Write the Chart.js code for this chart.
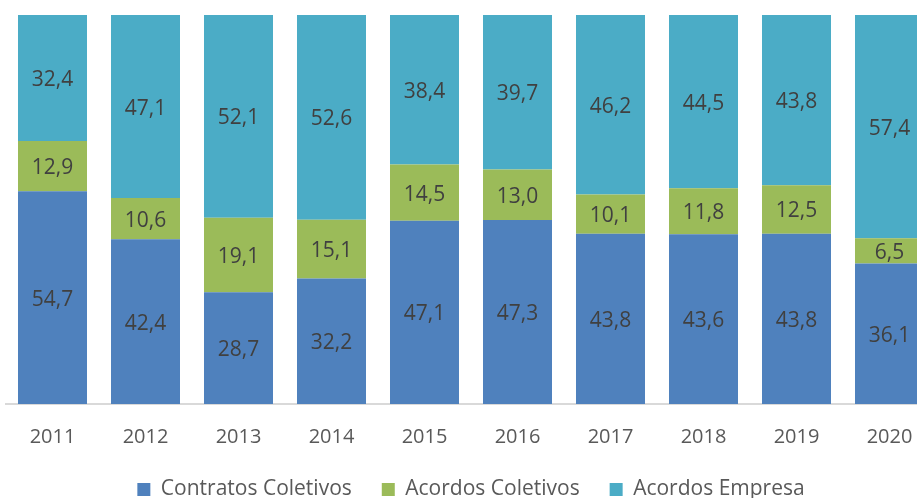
<!DOCTYPE html>
<html>
<head>
<meta charset="utf-8">
<script src="https://cdn.jsdelivr.net/npm/chart.js@4"></script>
<style>
  html, body { margin: 0; padding: 0; background: #fff; overflow: hidden; }
  #wrap { position: absolute; left: 0; top: 0; width: 950px; height: 510px; }
</style>
</head>
<body>
<div id="wrap"><canvas id="chart" width="950" height="510"></canvas></div>
<script>
// data
const years = ['2011', '2012', '2013', '2014', '2015', '2016', '2017', '2018', '2019', '2020'];
const contratosColetivos = [54.7, 42.4, 28.7, 32.2, 47.1, 47.3, 43.8, 43.6, 43.8, 36.1];
const acordosColetivos = [12.9, 10.6, 19.1, 15.1, 14.5, 13.0, 10.1, 11.8, 12.5, 6.5];
const acordosEmpresa = [32.4, 47.1, 52.1, 52.6, 38.4, 39.7, 46.2, 44.5, 43.8, 57.4];

const seriesNames = ['Contratos Coletivos', 'Acordos Coletivos', 'Acordos Empresa'];
const seriesColors = ['#4F81BD', '#9BBB59', '#4BACC6'];
const seriesValues = [contratosColetivos, acordosColetivos, acordosEmpresa];

// 100% stacked: scale each year so the three parts fill the bar
const totals = years.map((y, i) => seriesValues.reduce((s, arr) => s + arr[i], 0));

const FONT = 'Open Sans';

// draws the value in the middle of each segment
const segmentLabels = {
    id: 'segmentLabels',
    afterDatasetsDraw(chart) {
        const ctx = chart.ctx;
        ctx.save();
        ctx.font = '21px "' + FONT + '"';
        ctx.fillStyle = '#404040';
        ctx.textAlign = 'center';
        ctx.textBaseline = 'middle';
        chart.data.datasets.forEach((ds, di) => {
            const meta = chart.getDatasetMeta(di);
            meta.data.forEach((bar, i) => {
                const raw = ds.rawValues[i];
                const txt = raw.toFixed(1).replace('.', ',');
                ctx.fillText(txt, bar.x, (bar.y + bar.base) / 2 + 2);
            });
        });
        ctx.restore();
    }
};

new Chart(document.getElementById('chart'), {
    type: 'bar',
    data: {
        labels: years,
        datasets: seriesNames.map((name, k) => ({
            label: name,
            data: seriesValues[k].map((v, i) => v / totals[i] * 100),
            rawValues: seriesValues[k],
            backgroundColor: seriesColors[k],
            borderWidth: 0,
            categoryPercentage: 1,
            barPercentage: 0.742
        }))
    },
    options: {
        responsive: false,
        animation: false,
        layout: { padding: { left: 6, right: 14, top: 15, bottom: 0 } },
        plugins: {
            tooltip: { enabled: false },
            legend: {
                position: 'bottom',
                labels: {
                    boxWidth: 13,
                    boxHeight: 13,
                    padding: 30,
                    color: '#595959',
                    font: { family: FONT, size: 21 }
                }
            }
        },
        scales: {
            x: {
                stacked: true,
                grid: { display: false },
                border: { color: '#D9D9D9', width: 2 },
                ticks: {
                    color: '#595959',
                    padding: 13,
                    font: { family: FONT, size: 20 }
                },
                afterFit(scale) { scale.height = 45; }
            },
            y: {
                stacked: true,
                display: false,
                min: 0,
                max: 100
            }
        }
    },
    plugins: [segmentLabels]
});
</script>
</body>
</html>
